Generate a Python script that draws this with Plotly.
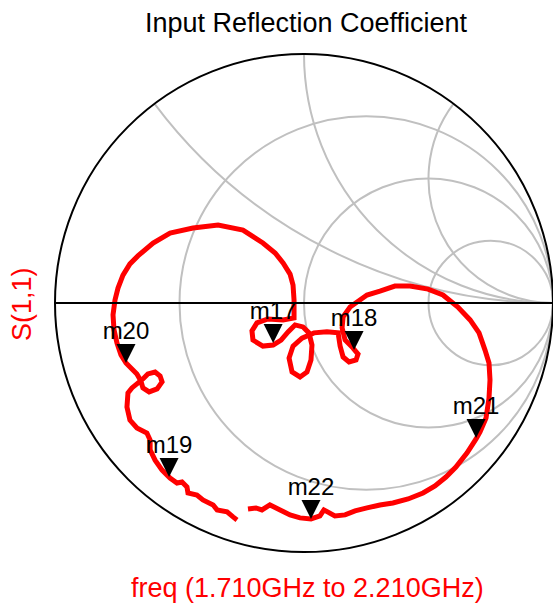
import numpy as np
import plotly.graph_objects as go

s11_re = [-0.269, -0.285, -0.309, -0.349, -0.365, -0.406, -0.430, -0.466, -0.470, -0.490,
          -0.510, -0.538, -0.570, -0.598, -0.618, -0.618, -0.631, -0.671, -0.699, -0.711,
          -0.707, -0.691, -0.671, -0.647, -0.627, -0.598, -0.578, -0.570, -0.590, -0.622,
          -0.647, -0.655, -0.671, -0.691, -0.715, -0.735, -0.751, -0.763, -0.767, -0.759,
          -0.747, -0.727, -0.699, -0.667, -0.606, -0.538, -0.446, -0.345, -0.245, -0.165,
          -0.116, -0.084, -0.056, -0.044, -0.040, -0.040, -0.084, -0.145, -0.189, -0.209,
          -0.205, -0.165, -0.124, -0.092, -0.064, -0.036, -0.004, 0.020, 0.032, 0.028,
          0.012, -0.016, -0.048, -0.060, -0.044, -0.008, 0.040, 0.092, 0.137, 0.145,
          0.157, 0.181, 0.209, 0.217, 0.197, 0.165, 0.153, 0.157, 0.185, 0.253,
          0.305, 0.365, 0.426, 0.498, 0.558, 0.618, 0.667, 0.703, 0.727, 0.743,
          0.747, 0.743, 0.731, 0.707, 0.691, 0.655, 0.610, 0.570, 0.526, 0.478,
          0.418, 0.357, 0.305, 0.253, 0.205, 0.165, 0.124, 0.080, 0.064, 0.028,
          -0.016, -0.056, -0.096, -0.137, -0.169, -0.193, -0.225]
s11_im = [-0.871, -0.859, -0.839, -0.831, -0.811, -0.791, -0.771, -0.763, -0.739, -0.719,
          -0.723, -0.703, -0.671, -0.631, -0.590, -0.550, -0.522, -0.502, -0.470, -0.418,
          -0.361, -0.341, -0.325, -0.305, -0.285, -0.277, -0.293, -0.317, -0.345, -0.357,
          -0.341, -0.313, -0.285, -0.265, -0.241, -0.209, -0.161, -0.108, -0.048, 0.012,
          0.060, 0.112, 0.157, 0.189, 0.241, 0.281, 0.301, 0.313, 0.293, 0.241,
          0.201, 0.161, 0.116, 0.072, 0.012, -0.060, -0.068, -0.064, -0.080, -0.112,
          -0.149, -0.173, -0.169, -0.149, -0.116, -0.088, -0.096, -0.120, -0.169, -0.229,
          -0.277, -0.297, -0.277, -0.221, -0.173, -0.141, -0.120, -0.116, -0.120, -0.173,
          -0.217, -0.237, -0.229, -0.205, -0.181, -0.149, -0.100, -0.056, -0.016, 0.032,
          0.048, 0.068, 0.068, 0.056, 0.032, -0.016, -0.068, -0.120, -0.189, -0.241,
          -0.309, -0.382, -0.462, -0.518, -0.546, -0.602, -0.659, -0.699, -0.735, -0.763,
          -0.787, -0.803, -0.811, -0.823, -0.835, -0.851, -0.855, -0.831, -0.855, -0.867,
          -0.863, -0.851, -0.831, -0.811, -0.831, -0.823, -0.827]

# markers
marker_names = ["m17", "m18", "m19", "m20", "m21", "m22"]
marker_re = [-0.124, 0.201, -0.542, -0.715, 0.691, 0.028]
marker_im = [-0.161, -0.189, -0.699, -0.241, -0.542, -0.867]

# Smith chart grid values
resistance_grid = [1 / 3, 1, 3]
reactance_grid = [0.5, 1, 2]


def to_z(re, im):
    g = np.array(re) + 1j * np.array(im)
    z = (1 + g) / (1 - g)
    return z.real, z.imag


zr, zi = to_z(s11_re, s11_im)
mr, mi = to_z(marker_re, marker_im)

FONT = "Liberation Sans, Arial, sans-serif"

fig = go.Figure()
fig.add_trace(go.Scattersmith(real=zr, imag=zi, mode="lines",
                              line=dict(color="#ff0000", width=5),
                              showlegend=False, hoverinfo="skip"))
fig.add_trace(go.Scattersmith(real=mr, imag=mi, mode="markers",
                              marker=dict(symbol="arrow-down", size=19, color="black"),
                              showlegend=False, hoverinfo="skip"))
fig.add_trace(go.Scattersmith(real=mr, imag=mi, mode="markers+text",
                              text=marker_names, textposition="top center",
                              textfont=dict(family=FONT, size=24, color="black"),
                              marker=dict(size=27, opacity=0),
                              showlegend=False, hoverinfo="skip"))

L, T, B = 55, 54, 53
W, H = 553, 605
area = H - T - B

fig.update_layout(
    width=W, height=H, autosize=False,
    margin=dict(l=L, r=0, t=T, b=B, pad=0),
    paper_bgcolor="white",
    font=dict(family=FONT),
    title=dict(text="Input Reflection Coefficient", x=306 / W, xref="container",
               y=1 - 23 / H, yref="container", xanchor="center", yanchor="middle",
               font=dict(family=FONT, size=27, color="black")),
    smith=dict(
        domain=dict(x=[0, 1], y=[0, 1]),
        bgcolor="white",
        realaxis=dict(tickvals=resistance_grid, showticklabels=False, ticks="",
                      showgrid=True, gridcolor="#c0c0c0", gridwidth=1.6,
                      showline=True, linecolor="black", linewidth=2),
        imaginaryaxis=dict(tickvals=reactance_grid, showticklabels=False, ticks="",
                           showgrid=True, gridcolor="#c0c0c0", gridwidth=1.6,
                           showline=True, linecolor="black", linewidth=2),
    ),
    annotations=[
        dict(text="S(1,1)", xref="paper", yref="paper", x=(22 - L) / (W - L),
             y=(H - B - 304) / area, textangle=-90, showarrow=False,
             xanchor="center", yanchor="middle",
             font=dict(family=FONT, size=27, color="#ff0000")),
        dict(text="freq (1.710GHz to 2.210GHz)", xref="paper", yref="paper",
             x=(307 - L) / (W - L), y=(H - B - 588) / area, showarrow=False,
             xanchor="center", yanchor="middle",
             font=dict(family=FONT, size=27, color="#ff0000")),
    ],
)

fig.write_html("out.html", config={"displayModeBar": False},
               post_script="document.body.style.margin='0';")
